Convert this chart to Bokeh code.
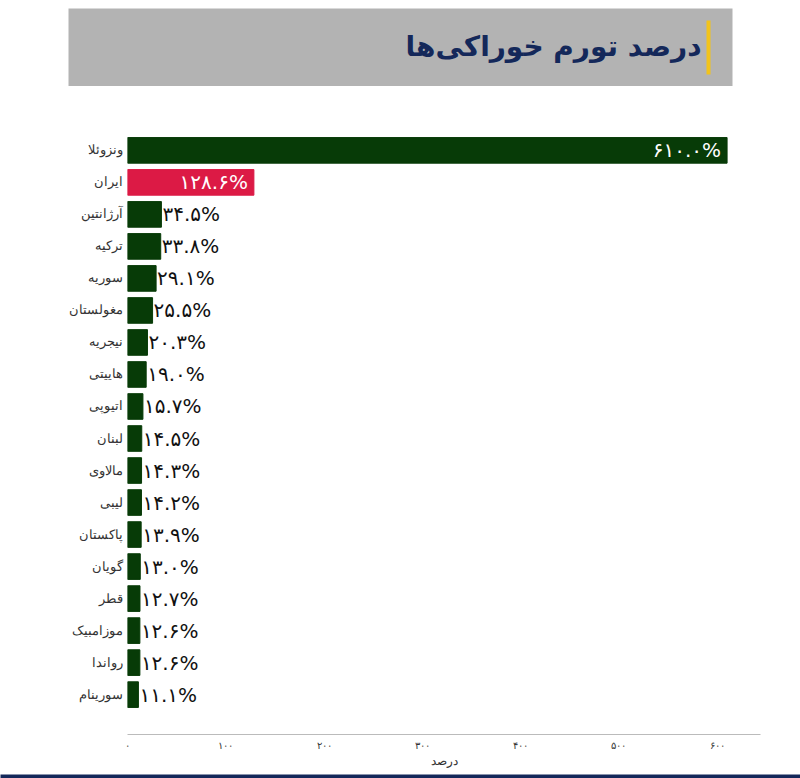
from bokeh.plotting import figure
from bokeh.layouts import column
from bokeh.models import FactorRange, ColumnDataSource, FixedTicker, LabelSet
from bokeh.core.properties import value
from bokeh.embed import file_html
from bokeh.resources import INLINE

# ---- data ----
countries = ["ونزوئلا", "ایران", "آرژانتین", "ترکیه", "سوریه", "مغولستان", "نیجریه",
             "هاییتی", "اتیوپی", "لبنان", "مالاوی", "لیبی", "پاکستان", "گویان", "قطر",
             "موزامبیک", "رواندا", "سورینام"]
values = [610.0, 128.6, 34.5, 33.8, 29.1, 25.5, 20.3, 19.0, 15.7, 14.5, 14.3, 14.2,
          13.9, 13.0, 12.7, 12.6, 12.6, 11.1]
highlight = "ایران"
tick_values = [0, 100, 200, 300, 400, 500, 600]
title_text = "درصد تورم خوراکی‌ها"
x_label = "درصد"

FA = str.maketrans("0123456789", "۰۱۲۳۴۵۶۷۸۹")
def fa(s):
    return s.translate(FA)

GREEN = "#073b07"
RED = "#dc1a45"
NAVY = "#14285a"
font = value("DejaVu Sans")

labels = [fa(f"{v:.1f}") + "%" for v in values]
colors = [RED if c == highlight else GREEN for c in countries]
inside = [v > 100 for v in values]

src_all = ColumnDataSource(dict(c=countries, v=values, col=colors, lab=labels))
src_in = ColumnDataSource(dict(c=[c for c, i in zip(countries, inside) if i],
                               v=[v for v, i in zip(values, inside) if i],
                               lab=[l for l, i in zip(labels, inside) if i]))
src_out = ColumnDataSource(dict(c=[c for c, i in zip(countries, inside) if not i],
                                v=[v for v, i in zip(values, inside) if not i],
                                lab=[l for l, i in zip(labels, inside) if not i]))

# ---- header (decoration) ----
h = figure(width=800, height=86, output_backend="svg", toolbar_location=None,
           x_range=(0, 800), y_range=(86, 0), min_border=0, frame_align=False)
h.axis.visible = False
h.grid.visible = False
h.outline_line_color = None
h.quad(left=[68], right=[732], top=[8], bottom=[86], fill_color="#b3b3b3",
       line_color=None)
h.quad(left=[706], right=[710], top=[20], bottom=[74], fill_color="#f2c31b",
       line_color=None)
h.text(x=[701], y=[46], text=[title_text], text_align="right",
       text_baseline="middle", text_font_size="28px", text_font_style="bold",
       text_color=NAVY, text_font=font)

# ---- main chart ----
p = figure(width=800, height=684, output_backend="svg", toolbar_location=None,
           y_range=FactorRange(*list(reversed(countries)), range_padding=0.0828),
           x_range=(0, 644), frame_align=False,
           min_border_left=127, min_border_right=40, min_border_top=24,
           min_border_bottom=31)

p.hbar(y="c", right="v", left=0, height=0.8, color="col", source=src_all)

p.add_layout(LabelSet(x="v", y="c", text="lab", source=src_in, x_offset=-6,
                      text_align="right", text_baseline="middle",
                      text_color="white", text_font_size="20px", text_font=font))
p.add_layout(LabelSet(x="v", y="c", text="lab", source=src_out, x_offset=1,
                      text_align="left", text_baseline="middle",
                      text_color="#111111", text_font_size="20px", text_font=font))

p.xaxis.ticker = FixedTicker(ticks=tick_values)
p.xaxis.major_label_overrides = {t: fa(str(t)) for t in tick_values}
p.xaxis.major_tick_line_color = None
p.xaxis.minor_tick_line_color = None
p.xaxis.major_tick_out = 0
p.xaxis.major_tick_in = 0
p.xaxis.minor_tick_out = 0
p.xaxis.axis_line_color = "#bbbbbb"
p.xaxis.major_label_text_font_size = "10px"
p.xaxis.major_label_text_color = "#333333"
p.xaxis.major_label_standoff = 5
p.xaxis.axis_label = x_label
p.xaxis.axis_label_text_font_style = "normal"
p.xaxis.axis_label_text_font_size = "12px"
p.xaxis.axis_label_text_color = "#333333"
p.xaxis.axis_label_standoff = 0

p.yaxis.axis_line_color = None
p.yaxis.major_tick_line_color = None
p.yaxis.minor_tick_line_color = None
p.yaxis.major_tick_out = 0
p.yaxis.major_label_text_font_size = "12.5px"
p.yaxis.major_label_text_color = "#333333"
p.yaxis.major_label_standoff = 5

p.grid.visible = False
p.outline_line_color = None

# ---- bottom band (decoration) ----
b = figure(width=800, height=8, output_backend="svg", toolbar_location=None,
           min_border=0, background_fill_color=NAVY, border_fill_color=NAVY,
           frame_align=False)
b.axis.visible = False
b.grid.visible = False
b.outline_line_color = None

layout = column(h, p, b, spacing=0)
open("out.html", "w").write(file_html(layout, INLINE))
